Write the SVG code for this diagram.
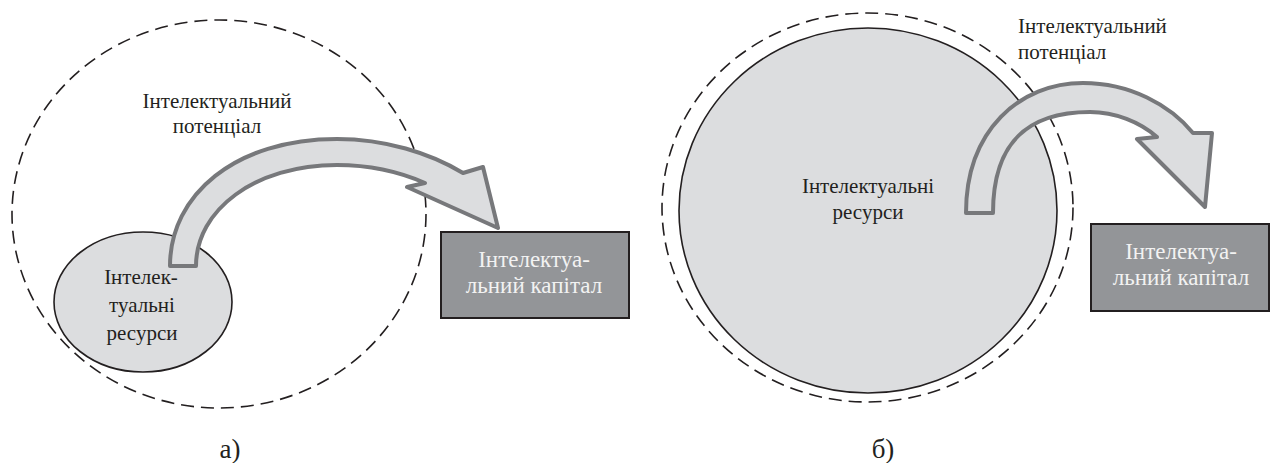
<svg xmlns="http://www.w3.org/2000/svg" width="1271" height="463" viewBox="0 0 1271 463">
<style>
text{font-family:"Liberation Serif","Times New Roman",serif;font-size:21px;fill:#231f20}
.mid{text-anchor:middle}
.dash{fill:none;stroke:#231f20;stroke-width:1.6;stroke-dasharray:13 7}
.res{fill:#dcdddf;stroke:#231f20;stroke-width:1.6}
.box{fill:#939598;stroke:#231f20;stroke-width:2}
.boxt{fill:#f2f2f2;text-anchor:middle;font-size:23px}
.arrow{fill:#dcdddf;stroke:#77787b;stroke-width:4;stroke-linejoin:round}
.lbl{font-size:27px;text-anchor:middle}
</style>
<rect width="1271" height="463" fill="#ffffff"/>
<g id="potential-a">
<ellipse class="dash" cx="219" cy="214" rx="207" ry="194"/>
<text class="mid" x="217" y="108">Інтелектуальний</text>
<text class="mid" x="217" y="133">потенціал</text>
</g>
<g id="resources-a">
<ellipse class="res" cx="143" cy="302" rx="89" ry="70"/>
<text class="mid" x="141" y="284">Інтелек-</text>
<text class="mid" x="142" y="312">туальні</text>
<text class="mid" x="142" y="340">ресурси</text>
</g>
<g id="capital-a">
<rect class="box" x="441" y="232" width="188" height="86"/>
<text class="boxt" x="534" y="267">Інтелектуа-</text>
<text class="boxt" x="534" y="293">льний капітал</text>
</g>
<g id="potential-b">
<ellipse class="dash" cx="867.5" cy="207.5" rx="205.5" ry="194.5"/>
<text x="1018" y="33">Інтелектуальний</text>
<text x="1018" y="59">потенціал</text>
</g>
<g id="resources-b">
<ellipse class="res" cx="868" cy="210.5" rx="189" ry="182.5"/>
<text class="mid" x="868" y="193">Інтелектуальні</text>
<text class="mid" x="868" y="219">ресурси</text>
</g>
<g id="capital-b">
<rect class="box" x="1091" y="224" width="178" height="87"/>
<text class="boxt" x="1181" y="259">Інтелектуа-</text>
<text class="boxt" x="1181" y="285">льний капітал</text>
</g>
<g id="connectors">
<path class="arrow" d="M170,266 C170,195 235,139 337,139 C385,139 430,153 463,173 L483,167 L498,228 L407,187 L425,183 C400,172 370,165 337,165 C255,165 196,210 196,266 Z"/>
<path class="arrow" d="M966,213 C966,130 1020,83 1083,83 C1130,83 1170,105 1193,133 L1212,133 L1205,207 L1137,139 L1157,137 C1140,122 1115,112 1090,112 C1030,112 993,140 993,213 Z"/>
</g>
<g id="labels">
<text class="lbl" x="230" y="458">а)</text>
<text class="lbl" x="883" y="458">б)</text>
</g>
</svg>
